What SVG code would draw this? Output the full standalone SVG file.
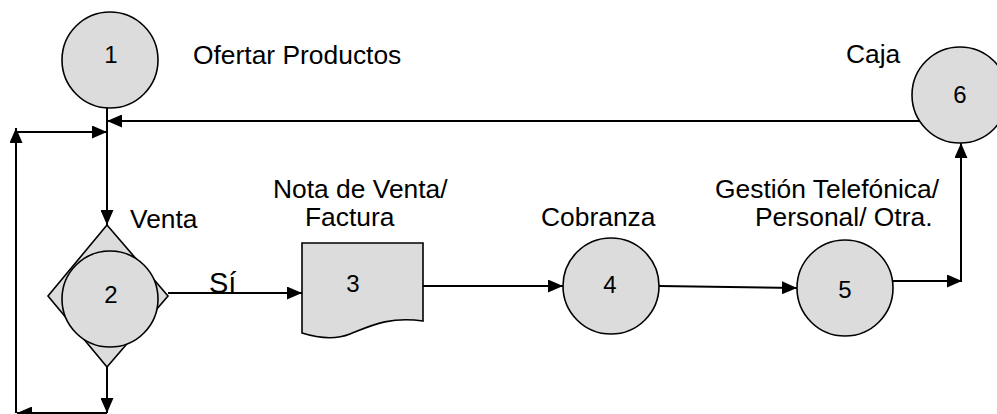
<svg xmlns="http://www.w3.org/2000/svg" width="997" height="414" viewBox="0 0 997 414">
<defs>
<style>
.shape{fill:#dcdcdc;stroke:#000;stroke-width:1.6}
.line{fill:none;stroke:#000;stroke-width:2}
.lbl{font-family:"Liberation Sans",Arial,sans-serif;font-size:26.4px;fill:#000}
.num{font-family:"Liberation Sans",Arial,sans-serif;font-size:24px;fill:#000;text-anchor:middle}
</style>
<marker id="arr" viewBox="0 0 15 13" refX="15" refY="6.5" markerWidth="15" markerHeight="13" markerUnits="userSpaceOnUse" orient="auto">
<path d="M0,0 L15,6.5 L0,13 Z" fill="#000"/>
</marker>
</defs>
<rect width="997" height="414" fill="#fff"/>
<g id="connectors">
<line class="line" x1="107" y1="108" x2="107" y2="225" marker-end="url(#arr)"/>
<line class="line" x1="920" y1="121" x2="107" y2="121" marker-end="url(#arr)"/>
<line class="line" x1="16" y1="132" x2="107" y2="132" marker-end="url(#arr)"/>
<line class="line" x1="16" y1="413" x2="16" y2="128" marker-end="url(#arr)"/>
<line class="line" x1="107" y1="413" x2="17" y2="413" marker-end="url(#arr)"/>
<line class="line" x1="107" y1="367" x2="107" y2="413" marker-end="url(#arr)"/>
<line class="line" x1="168" y1="293" x2="302" y2="293" marker-end="url(#arr)"/>
<line class="line" x1="423" y1="286" x2="563" y2="286" marker-end="url(#arr)"/>
<line class="line" x1="659" y1="286" x2="797" y2="288" marker-end="url(#arr)"/>
<line class="line" x1="893" y1="281" x2="962" y2="281" marker-end="url(#arr)"/>
<line class="line" x1="961" y1="281" x2="961" y2="143" marker-end="url(#arr)"/>
<text class="lbl" x="209" y="293" style="font-size:29px">Sí</text>
</g>
<g id="node1">
<circle class="shape" cx="110" cy="60" r="48"/>
<text class="num" x="111" y="63">1</text>
<text class="lbl" x="193" y="64">Ofertar Productos</text>
</g>
<g id="node2">
<path class="shape" d="M107,225 L168,296 L107,367 L48,296 Z"/>
<circle class="shape" cx="110" cy="299" r="48"/>
<text class="num" x="111" y="303">2</text>
<text class="lbl" x="130" y="228">Venta</text>
</g>
<g id="node3">
<path class="shape" d="M302,243 H423 V321 C390,316 370,326 350,334 C335,340 318,338 302,333 Z"/>
<text class="num" x="353" y="292">3</text>
<text class="lbl" x="273" y="198">Nota de Venta/</text>
<text class="lbl" x="305" y="226">Factura</text>
</g>
<g id="node4">
<circle class="shape" cx="611" cy="286" r="48"/>
<text class="num" x="610" y="293">4</text>
<text class="lbl" x="541" y="226">Cobranza</text>
</g>
<g id="node5">
<circle class="shape" cx="845" cy="288" r="48"/>
<text class="num" x="845" y="298">5</text>
<text class="lbl" x="715" y="198">Gestión Telefónica/</text>
<text class="lbl" x="755" y="226">Personal/ Otra.</text>
</g>
<g id="node6">
<circle class="shape" cx="960" cy="95" r="48"/>
<text class="num" x="960" y="103">6</text>
<text class="lbl" x="846" y="63">Caja</text>
</g>
</svg>
